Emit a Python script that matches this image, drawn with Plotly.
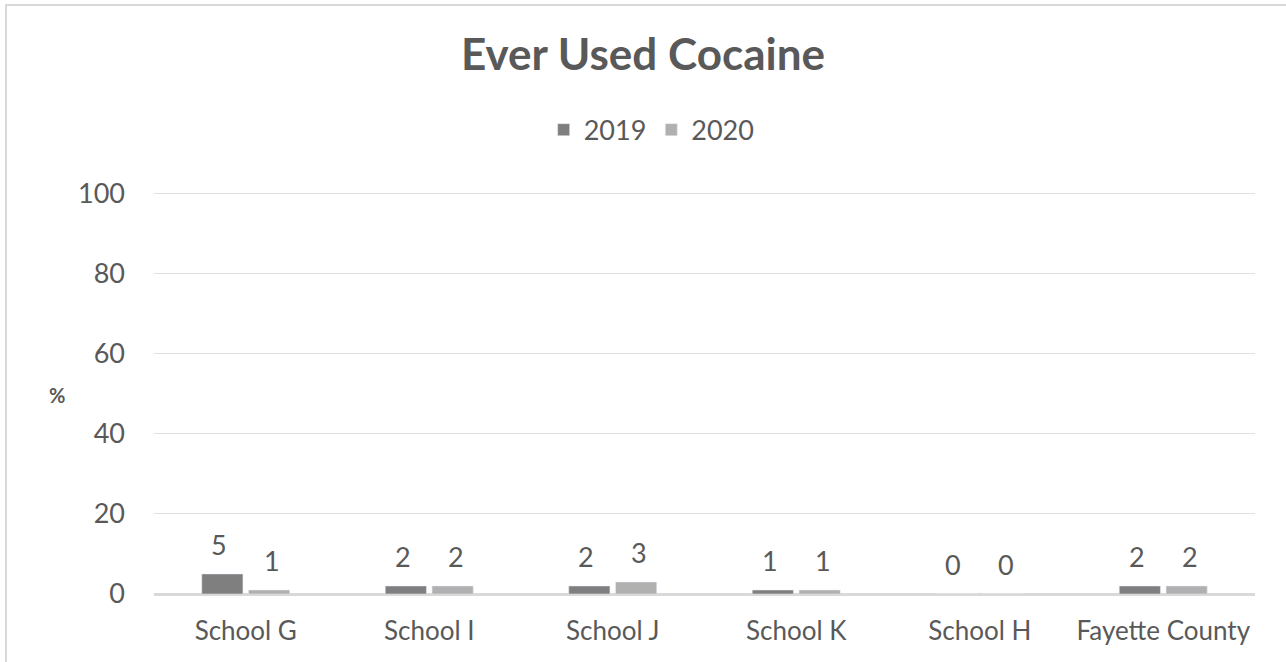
import plotly.graph_objects as go

# chart data
schools = ["School G", "School I", "School J", "School K", "School H", "Fayette County"]
values_2019 = [5, 2, 2, 1, 0, 2]
values_2020 = [1, 2, 3, 1, 0, 2]

FONT = "Lato, 'Open Sans', sans-serif"
TXT = "#595959"

fig = go.Figure()
fig.add_trace(go.Bar(x=schools, y=values_2019, name="2019", marker_color="#7f7f7f"))
fig.add_trace(go.Bar(x=schools, y=values_2020, name="2020", marker_color="#b0b0b0"))

# data labels sit a bit higher than plotly's own outside text, so use annotations
labels = []
for vals, dx in ((values_2019, -26.5), (values_2020, 26.5)):
    for s, v in zip(schools, vals):
        labels.append(dict(x=s, y=v, text=str(v), showarrow=False,
                           xanchor="center", yanchor="bottom",
                           xshift=dx, yshift=11,
                           font=dict(size=27, color=TXT)))

labels.append(dict(text="<b>%</b>", xref="paper", yref="paper",
                   x=-0.097, y=0.495, showarrow=False,
                   font=dict(size=20, color=TXT)))

fig.update_layout(
    width=1286, height=662,
    paper_bgcolor="white", plot_bgcolor="white",
    font=dict(family=FONT, color=TXT),
    margin=dict(l=154, r=31, t=192, b=68, autoexpand=False),
    barmode="group", bargap=0.49, bargroupgap=0.12,
    title=dict(text="<b>Ever Used Cocaine</b>", x=0.5, xanchor="center",
               y=1 - 55 / 662, yanchor="middle",
               font=dict(size=44, color=TXT)),
    legend=dict(orientation="h", x=0.452, xanchor="center",
                y=1.154, yanchor="middle",
                font=dict(size=27, color=TXT), itemwidth=30),
    showlegend=True,
    xaxis=dict(showgrid=False, showline=True, linecolor="#d9d9d9", linewidth=1.5,
               tickfont=dict(size=26, color=TXT), ticks="", ticklabelstandoff=13,
               tickangle=0, automargin=False),
    yaxis=dict(range=[0, 100.4], tickvals=[0, 20, 40, 60, 80, 100], showgrid=True,
               gridcolor="#e0e0e0",
               zeroline=True, zerolinecolor="#d9d9d9", zerolinewidth=1.5,
               tickfont=dict(size=27, color=TXT), ticks="", ticklabelstandoff=28,
               automargin=False),
    shapes=[dict(type="rect", xref="paper", yref="paper",
                 x0=-0.1344, x1=1.5, y0=-0.5, y1=1.465,
                 line=dict(color="#d9d9d9", width=2), layer="below")],
    annotations=labels,
)

# drop the default page margin so the figure sits at the window's corner
fig.write_html("out.html", config={"displayModeBar": False},
               post_script="document.body.style.margin='0';")
